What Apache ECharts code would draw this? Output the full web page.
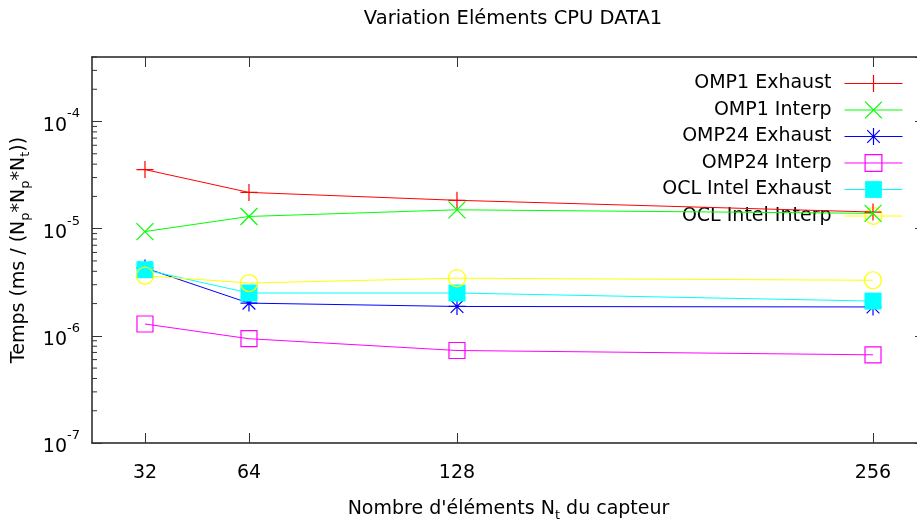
<!DOCTYPE html>
<html>
<head>
<meta charset="utf-8">
<script src="https://cdn.jsdelivr.net/npm/echarts@6/dist/echarts.min.js"></script>
<style>
html,body{margin:0;padding:0;background:#fff;}
#chart{width:917px;height:521px;}
</style>
</head>
<body>
<div id="chart"></div>
<script>
// ---- data ----
const elements = [32, 64, 128, 256];
const omp1Exhaust  = [3.56e-5, 2.18e-5, 1.84e-5, 1.43e-5];
const omp1Interp   = [9.4e-6, 1.30e-5, 1.50e-5, 1.39e-5];
const omp24Exhaust = [4.3e-6, 2.02e-6, 1.88e-6, 1.86e-6];
const omp24Interp  = [1.29e-6, 9.4e-7, 7.3e-7, 6.65e-7];
const oclExhaust   = [4.14e-6, 2.51e-6, 2.51e-6, 2.11e-6];
const oclInterp    = [3.64e-6, 3.11e-6, 3.45e-6, 3.3e-6];
const seriesNames  = ['OMP1 Exhaust', 'OMP1 Interp', 'OMP24 Exhaust', 'OMP24 Interp', 'OCL Intel Exhaust', 'OCL Intel Interp'];
const seriesColors = ['#ff0000', '#00ff00', '#0000ff', '#ff00ff', '#00ffff', '#ffff00'];
const xTicks = [32, 64, 128, 256];
const decades = [-7, -6, -5, -4];

const FONT = 'DejaVu Sans';
const FS = 19;
const minorTicks = [];
decades.forEach(d => { for (let k = 2; k <= 9; k++) { const v = k * Math.pow(10, d); if (v <= 4e-4) minorTicks.push(v); } });

const PLUS = 'path://M0,-1L0,1M-1,0L1,0';
const CROSS = 'path://M-1,-1L1,1M-1,1L1,-1';
const STAR = 'path://M0,-1L0,1M-1,0L1,0M-0.75,-0.75L0.75,0.75M-0.75,0.75L0.75,-0.75';
const symbols = [PLUS, CROSS, STAR, 'rect', 'rect', 'circle'];
const filledFlags = [false, false, false, false, true, false];

function mk(i, vals, size) {
  const color = seriesColors[i], filled = filledFlags[i];
  return {
    name: seriesNames[i], type: 'line', data: elements.map((x, k) => [x, vals[k]]),
    symbol: symbols[i], symbolSize: size, showAllSymbol: true,
    lineStyle: { color: color, width: 1 },
    itemStyle: { color: filled ? color : 'rgba(0,0,0,0)', borderColor: color, borderWidth: filled ? 0 : 1.2 },
    emphasis: { disabled: true }, animation: false, z: 3
  };
}

const chart = echarts.init(document.getElementById('chart'), null, { renderer: 'canvas' });
const axisColor = '#222';
chart.setOption({
  animation: false,
  textStyle: { fontFamily: FONT },
  graphic: [{
    type: 'text', x: 513, y: 19,
    style: { text: 'Variation Eléments CPU DATA1', font: '19.5px "' + FONT + '"', fill: '#000', textAlign: 'center', textVerticalAlign: 'middle' }
  }],
  grid: { left: 92, top: 57, right: -8, bottom: 78, containLabel: false, outerBoundsMode: 'none' },
  legend: {
    data: seriesNames.map((n, i) => ({
      name: n,
      lineStyle: { color: seriesColors[i], width: 1 },
      itemStyle: { color: filledFlags[i] ? seriesColors[i] : 'rgba(0,0,0,0)', borderColor: seriesColors[i], borderWidth: filledFlags[i] ? 0 : 1.2 }
    })),
    orient: 'vertical', align: 'right', right: 14, top: 74, padding: 0,
    itemWidth: 58, itemHeight: 21, itemGap: 7.5, z: 1,
    textStyle: { fontFamily: FONT, fontSize: FS, color: '#000', padding: [0, 8, 0, 0] }
  },
  xAxis: [{
    type: 'value', min: 15.7, max: 272, position: 'bottom',
    axisLine: { show: true, onZero: false, lineStyle: { color: axisColor, width: 1.5 } },
    axisTick: { show: true, inside: true, length: 10, customValues: xTicks, lineStyle: { color: '#333' } },
    axisLabel: { show: true, customValues: xTicks, margin: 21, fontSize: FS, color: '#000', fontFamily: FONT },
    splitLine: { show: false },
    name: 'Nombre d\'éléments N{sub|t} du capteur', nameLocation: 'middle', nameGap: 53,
    nameTextStyle: { fontSize: FS, color: '#000', fontFamily: FONT, lineHeight: 26,
      rich: { sub: { fontSize: 13, lineHeight: 13, verticalAlign: 'bottom', fontFamily: FONT, color: '#000' } } }
  }, {
    type: 'value', min: 15.7, max: 272, position: 'top',
    axisLine: { show: true, onZero: false, lineStyle: { color: axisColor, width: 1.5 } },
    axisTick: { show: true, inside: true, length: 10, customValues: xTicks, lineStyle: { color: '#333' } },
    axisLabel: { show: false }, splitLine: { show: false }
  }],
  yAxis: [{
    type: 'log', logBase: 10, min: 1e-7, max: 4e-4, position: 'left',
    axisLine: { show: true, onZero: false, lineStyle: { color: axisColor, width: 1.5 } },
    axisTick: { show: true, inside: true, length: 10, lineStyle: { color: '#333' } },
    axisLabel: {
      show: true, showMaxLabel: false, margin: 12, color: '#000', fontFamily: FONT,
      formatter: v => '{b|10}{s|' + Math.round(Math.log10(v)) + '}',
      rich: {
        b: { fontSize: FS, lineHeight: 28, verticalAlign: 'bottom', fontFamily: FONT, color: '#000' },
        s: { fontSize: 13, lineHeight: 13, verticalAlign: 'top', fontFamily: FONT, color: '#000' }
      }
    },
    splitLine: { show: false },
    name: 'Temps (ms / (N{sub|p}*N{sub|p}*N{sub|t}))', nameLocation: 'middle', nameGap: 56, nameRotate: 90,
    nameTextStyle: { fontSize: FS, color: '#000', fontFamily: FONT, lineHeight: 26,
      rich: { sub: { fontSize: 13, lineHeight: 13, verticalAlign: 'bottom', fontFamily: FONT, color: '#000' } } }
  }, {
    type: 'log', logBase: 10, min: 1e-7, max: 4e-4, position: 'right',
    axisLine: { show: false },
    axisTick: { show: true, inside: true, length: 10, lineStyle: { color: '#333' } },
    axisLabel: { show: false }, splitLine: { show: false }
  }],
  series: [
    {
      name: 'minorTicks', type: 'custom', silent: true, z: 1,
      data: minorTicks.map(v => [32, v]),
      renderItem: function (params, api) {
        const y = api.coord([api.value(0), api.value(1)])[1];
        const x0 = params.coordSys.x;
        return { type: 'line', shape: { x1: x0, y1: y, x2: x0 + 5, y2: y }, style: { stroke: '#333', lineWidth: 1 } };
      }
    },
    mk(0, omp1Exhaust, 17),
    mk(1, omp1Interp, 17),
    mk(2, omp24Exhaust, 17),
    mk(3, omp24Interp, 16),
    mk(4, oclExhaust, 17),
    mk(5, oclInterp, 17)
  ]
});
</script>
</body>
</html>
